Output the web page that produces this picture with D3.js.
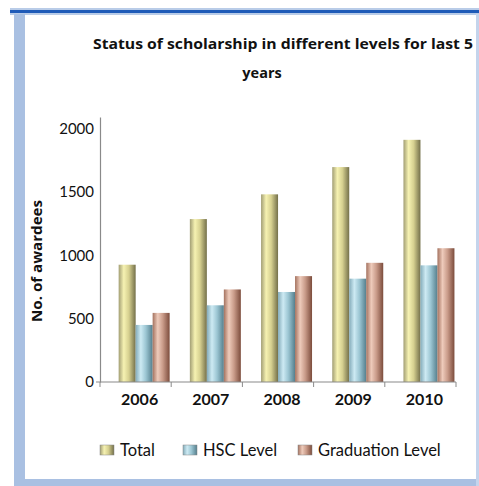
<!DOCTYPE html>
<html>
<head>
<meta charset="utf-8">
<script src="https://cdn.jsdelivr.net/npm/d3@7"></script>
<style>
  body { margin: 0; background: #fff; }
  text { font-family: Lato, "Open Sans", sans-serif; fill: #111; }
</style>
</head>
<body>
<div id="chart"></div>
<script>
// chart data
var years = ["2006", "2007", "2008", "2009", "2010"];
var seriesNames = ["Total", "HSC Level", "Graduation Level"];
var totalVals = [925, 1285, 1480, 1695, 1910];
var hscVals = [450, 605, 710, 815, 920];
var gradVals = [545, 730, 835, 940, 1055];
var yTicks = [0, 500, 1000, 1500, 2000];

var svgWidth = 479;
var svgHeight = 486;

var svg = d3.select("#chart")
  .append("svg")
  .attr("width", svgWidth)
  .attr("height", svgHeight);

// frame around the chart (document border)
svg.append("rect").attr("x", 10).attr("y", 8).attr("width", 469).attr("height", 7).attr("fill", "#b9cce8");
svg.append("rect").attr("x", 10).attr("y", 10).attr("width", 469).attr("height", 3).attr("fill", "#1f5bb8");
svg.append("rect").attr("x", 14).attr("y", 14).attr("width", 11).attr("height", 472).attr("fill", "#a9c0e2");
svg.append("rect").attr("x", 14).attr("y", 479).attr("width", 465).attr("height", 7).attr("fill", "#a9c0e2");
svg.append("rect").attr("x", 476).attr("y", 14).attr("width", 3).attr("height", 472).attr("fill", "#c4d4ec");

// gradients for the cylinder-ish bars
var defs = svg.append("defs");
var gradStops = {
  "Total": [["0", "#a29e74"], ["0.3", "#f6f2b2"], ["0.6", "#d6d090"], ["1", "#74704a"]],
  "HSC Level": [["0", "#84acba"], ["0.3", "#cdeaf3"], ["0.6", "#9cc6d3"], ["1", "#557f8d"]],
  "Graduation Level": [["0", "#a4725f"], ["0.3", "#eecbbb"], ["0.6", "#c99b89"], ["1", "#7c4c3c"]]
};
seriesNames.forEach(function(name, i) {
  var g = defs.append("linearGradient")
    .attr("id", "grad" + i)
    .attr("x1", 0).attr("x2", 1).attr("y1", 0).attr("y2", 0);
  gradStops[name].forEach(function(s) {
    g.append("stop").attr("offset", s[0]).attr("stop-color", s[1]);
  });
});

// title
svg.append("text")
  .attr("x", 93)
  .attr("y", 49)
  .attr("textLength", 380)
  .attr("lengthAdjust", "spacingAndGlyphs")
  .style("font-family", "'Open Sans', sans-serif")
  .style("font-weight", "bold")
  .style("font-size", "14.5px")
  .text("Status of scholarship in different levels for last 5");

svg.append("text")
  .attr("x", 262)
  .attr("y", 78)
  .attr("text-anchor", "middle")
  .style("font-family", "'Open Sans', sans-serif")
  .style("font-weight", "bold")
  .style("font-size", "14.5px")
  .text("years");

// scales
var x0 = d3.scaleBand()
  .domain(years)
  .range([100, 456])
  .padding(0);

var bw = x0.bandwidth();
var x1 = d3.scaleBand()
  .domain(seriesNames)
  .range([bw * 0.262, bw * 0.978])
  .padding(0);

var y = d3.scaleLinear()
  .domain([0, 2090])
  .range([382, 117]);

var rows = years.map(function(yr, i) {
  return { year: yr, vals: [totalVals[i], hscVals[i], gradVals[i]] };
});

// bars
var groups = svg.selectAll(".yearGroup")
  .data(rows)
  .enter()
  .append("g")
  .attr("class", "yearGroup")
  .attr("transform", d => `translate(${x0(d.year)},0)`);

groups.selectAll("rect")
  .data(d => d.vals.map((v, i) => ({ name: seriesNames[i], idx: i, value: v })))
  .enter()
  .append("rect")
  .attr("x", d => x1(d.name))
  .attr("y", d => y(d.value))
  .attr("width", x1.bandwidth())
  .attr("height", d => y(0) - y(d.value))
  .attr("fill", d => `url(#grad${d.idx})`);

// y axis
var leftAxis = d3.axisLeft(y)
  .tickValues(yTicks)
  .tickFormat(d3.format("d"))
  .tickSize(0)
  .tickPadding(6);

var yAxisG = svg.append("g")
  .attr("transform", "translate(100,0)")
  .call(leftAxis);
yAxisG.select(".domain").attr("stroke", "#8a8a8a").attr("stroke-width", 1.2);
yAxisG.selectAll("text")
  .style("font-size", "15px")
  .style("font-family", "Lato, sans-serif")
  .attr("fill", "#111");

// x axis
var bottomAxis = d3.axisBottom(x0).tickSize(0).tickPadding(12);
var xAxisG = svg.append("g")
  .attr("transform", `translate(0,${y(0)})`)
  .call(bottomAxis);
xAxisG.select(".domain").attr("stroke", "#8a8a8a").attr("stroke-width", 1.2)
  .attr("d", `M96,0H${x0.range()[1]}`);
xAxisG.selectAll("text")
  .attr("dx", 4)
  .style("font-size", "16px")
  .style("font-weight", "bold")
  .style("font-family", "Lato, sans-serif")
  .attr("fill", "#111");

// category boundary ticks
var bounds = years.map(d => x0(d)).concat([x0.range()[1]]);
xAxisG.selectAll(".bound")
  .data(bounds)
  .enter()
  .append("line")
  .attr("class", "bound")
  .attr("x1", d => d).attr("x2", d => d)
  .attr("y1", 0).attr("y2", 5)
  .attr("stroke", "#8a8a8a");

// y axis title
svg.append("text")
  .attr("transform", "translate(42,261) rotate(-90)")
  .attr("text-anchor", "middle")
  .attr("textLength", 122)
  .attr("lengthAdjust", "spacingAndGlyphs")
  .style("font-family", "'Open Sans', sans-serif")
  .style("font-weight", "bold")
  .style("font-size", "14px")
  .text("No. of awardees");

// legend
var legendX = [100, 183, 298];
var legend = svg.selectAll(".legendItem")
  .data(seriesNames)
  .enter()
  .append("g")
  .attr("class", "legendItem")
  .attr("transform", (d, i) => `translate(${legendX[i]},450)`);

legend.append("rect")
  .attr("x", 0).attr("y", -5)
  .attr("width", 14).attr("height", 10)
  .attr("fill", (d, i) => `url(#grad${i})`)
  .attr("stroke", "#888")
  .attr("stroke-width", 0.5);

legend.append("text")
  .attr("x", 20)
  .attr("y", 6)
  .style("font-size", "16.5px")
  .text(d => d);
</script>
</body>
</html>
